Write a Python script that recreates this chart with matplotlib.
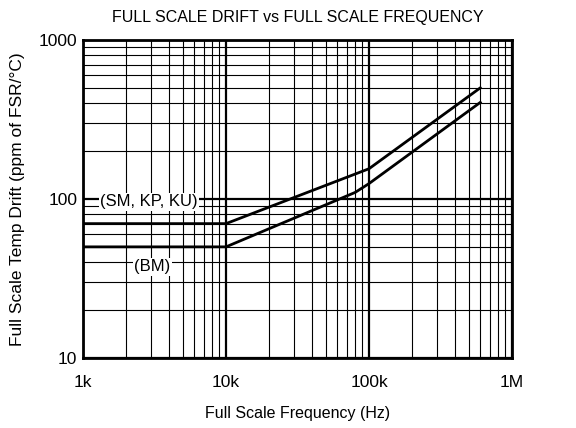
# Full scale drift vs full scale frequency (log-log)

import matplotlib
matplotlib.use("Agg")
import matplotlib.pyplot as plt
from matplotlib.ticker import FixedLocator, LogLocator, NullFormatter

plt.rcParams["font.family"] = ["Liberation Sans", "DejaVu Sans"]

# Data
freq_sm = [1e3, 10e3, 100e3, 600e3]
drift_sm = [70, 70, 155, 500]

freq_bm = [1e3, 10e3, 80e3, 100e3, 600e3]
drift_bm = [50, 50, 110, 125, 405]

x_ticks = [1e3, 1e4, 1e5, 1e6]
x_tick_labels = ["1k", "10k", "100k", "1M"]
y_ticks = [10, 100, 1000]
y_tick_labels = ["10", "100", "1000"]

fig = plt.figure(figsize=(5.76, 4.28), dpi=100)
ax = fig.add_axes([83 / 576, 1 - 358 / 428, (512 - 83) / 576, (358 - 40) / 428])

ax.set_xscale("log")
ax.set_yscale("log")
ax.set_xlim(1e3, 1e6)
ax.set_ylim(10, 1000)

ax.xaxis.set_major_locator(FixedLocator(x_ticks))
ax.set_xticklabels(x_tick_labels)
ax.yaxis.set_major_locator(FixedLocator(y_ticks))
ax.set_yticklabels(y_tick_labels)
ax.xaxis.set_minor_locator(LogLocator(base=10, subs=range(2, 10)))
ax.yaxis.set_minor_locator(LogLocator(base=10, subs=range(2, 10)))
ax.xaxis.set_minor_formatter(NullFormatter())
ax.yaxis.set_minor_formatter(NullFormatter())

ax.grid(True, which="major", color="black", lw=1.6)
ax.grid(True, which="minor", color="black", lw=0.8)
ax.set_axisbelow(True)
ax.tick_params(which="both", length=0)
ax.tick_params(axis="x", pad=12, labelsize=12.5)
ax.tick_params(axis="y", pad=4, labelsize=12.5)

for s in ax.spines.values():
    s.set_linewidth(2)

ax.plot(freq_sm, drift_sm, color="black", lw=2, zorder=3)
ax.plot(freq_bm, drift_bm, color="black", lw=2, zorder=3)

box = dict(facecolor="white", edgecolor="none", pad=1)
ax.text(2.9e3, 96, "(SM, KP, KU)", fontsize=12, ha="center", va="center", bbox=box, zorder=4)
ax.text(3.05e3, 37.5, "(BM)", fontsize=12, ha="center", va="center", bbox=box, zorder=4)

ax.set_title("FULL SCALE DRIFT vs FULL SCALE FREQUENCY", fontsize=11.5, pad=13)
ax.set_xlabel("Full Scale Frequency (Hz)", fontsize=11.5, labelpad=12)
ax.set_ylabel("Full Scale Temp Drift (ppm of FSR/\u00b0C)", fontsize=12.5, labelpad=10)

fig.savefig("out.png", dpi=100)
